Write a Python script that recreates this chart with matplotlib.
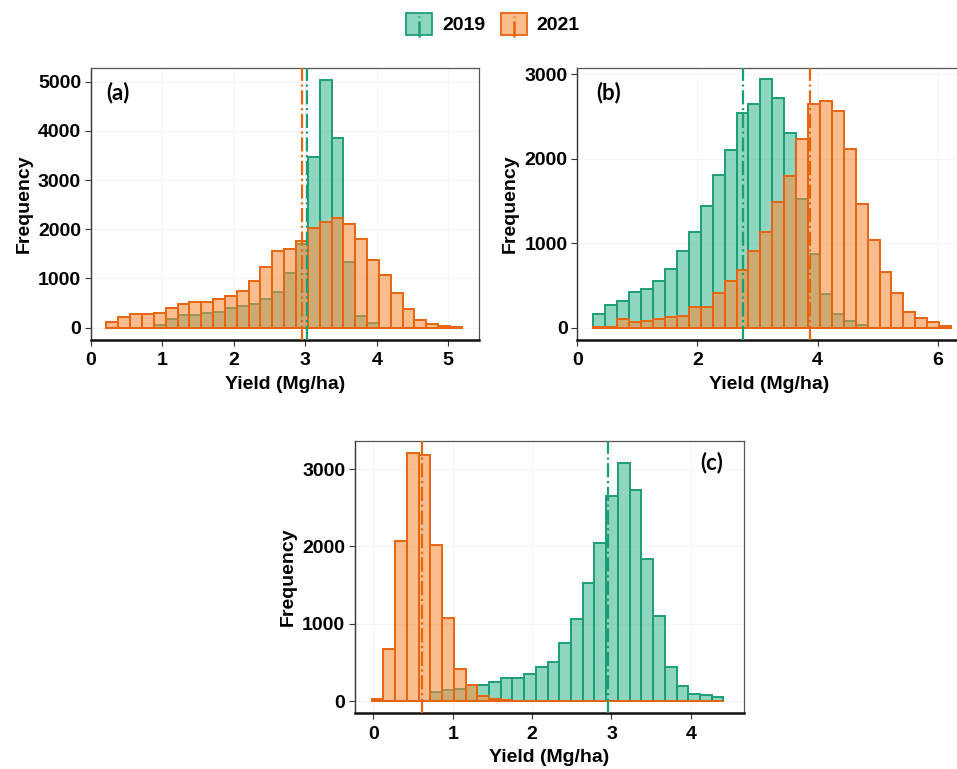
import numpy as np
import matplotlib
matplotlib.use("Agg")
import matplotlib.pyplot as plt
from matplotlib.patches import Patch, Rectangle
from matplotlib.lines import Line2D
from matplotlib.legend_handler import HandlerBase

plt.rcParams['font.family'] = ['Liberation Sans', 'DejaVu Sans']
plt.rcParams['font.weight'] = 'bold'

# ---- data ----
years = ["2019", "2021"]

# panel (a): 30 shared bins
a_range = (0.22, 5.19)
a_2019 = [0, 0, 0, 0, 60, 170, 250, 250, 305, 325, 393, 440, 475, 575, 718,
          1104, 1701, 3475, 5034, 3862, 1341, 244, 95, 0, 0, 0, 0, 0, 0, 0]
a_2021 = [120, 220, 270, 270, 290, 410, 490, 515, 515, 575, 645, 750, 955, 1226, 1558,
          1605, 1762, 2019, 2140, 2236, 2107, 1802, 1375, 1070, 698, 373, 156, 68, 40, 20]
a_mean = [3.03, 2.96]

# panel (b)
b_range = (0.27, 6.22)
b_2019 = [158, 268, 320, 418, 462, 557, 699, 904, 1129, 1441, 1804, 2104, 2546, 2649, 2941,
          2716, 2310, 1520, 869, 395, 162, 83, 32, 0, 0, 0, 0, 0, 0, 0]
b_2021 = [10, 10, 99, 71, 83, 103, 130, 142, 249, 241, 407, 557, 683, 908, 1129,
          1492, 1796, 2238, 2645, 2688, 2570, 2112, 1465, 1038, 659, 407, 182, 111, 71, 20]
b_mean = [2.76, 3.88]

# panel (c)
c_range = (-0.02, 4.41)
c_2019 = [0, 0, 0, 0, 0, 112, 142, 151, 207, 207, 250, 293, 293, 349, 444,
          509, 754, 1060, 1522, 2039, 2651, 3073, 2728, 1832, 1099, 444, 198, 90, 75, 50]
c_2021 = [20, 672, 2069, 3211, 3181, 2017, 1069, 409, 207, 69, 26, 8, 0, 0, 0,
          0, 0, 0, 0, 0, 0, 0, 0, 0, 0, 0, 0, 0, 0, 0]
c_mean = [2.95, 0.61]

edge_cols = ['#1b9e77', '#e8650f']
fill_cols = ['#1fae80', '#f98c3c']
fill_alpha = [0.5, 0.58]


class HandlerKey(HandlerBase):
    def create_artists(self, legend, orig_handle, xdescent, ydescent,
                       width, height, fontsize, trans):
        rect = Rectangle((-xdescent, -ydescent), width, height,
                         facecolor=orig_handle.get_facecolor(),
                         edgecolor=orig_handle.get_edgecolor(), lw=1.3,
                         transform=trans)
        cx = -xdescent + width / 2
        line = Line2D([cx, cx], [-ydescent - 0.12 * height, -ydescent + 0.88 * height],
                      color=orig_handle.get_edgecolor(), lw=1.8, ls='-.',
                      transform=trans)
        return [rect, line]


def draw_panel(ax, rng, counts, means, xlim, ylim, xticks, yticks, label, label_pos):
    edges = np.linspace(rng[0], rng[1], len(counts[0]) + 1)
    width = edges[1] - edges[0]
    ax.grid(True, color='#f4f4f4', lw=0.6)
    ax.set_axisbelow(True)
    for i in range(2):
        ax.bar(edges[:-1], counts[i], width=width, align='edge',
               facecolor=matplotlib.colors.to_rgba(fill_cols[i], fill_alpha[i]),
               edgecolor=edge_cols[i], linewidth=1.4, zorder=2 + i)
    for i in range(2):
        ax.axvline(means[i], color=edge_cols[i], lw=1.6, ls='-.', zorder=5)
    ax.set_xlim(*xlim)
    ax.set_ylim(*ylim)
    ax.set_xticks(xticks)
    ax.set_yticks(yticks)
    ax.tick_params(labelsize=14, length=4, width=0.8, color='#333333')
    ax.tick_params(axis='x', pad=5)
    ax.tick_params(axis='y', pad=3)
    ax.set_xlabel("Yield (Mg/ha)", fontsize=14, fontweight='bold', labelpad=5)
    ax.set_ylabel("Frequency", fontsize=14, fontweight='bold', labelpad=4)
    for s in ['top', 'right']:
        ax.spines[s].set_color('#555555')
        ax.spines[s].set_linewidth(0.9)
    ax.spines['left'].set_color('#333333')
    ax.spines['left'].set_linewidth(1.0)
    ax.spines['bottom'].set_color('#111111')
    ax.spines['bottom'].set_linewidth(1.8)
    ha = 'left' if label_pos[0] < 0.5 else 'right'
    ax.text(label_pos[0], label_pos[1], label, transform=ax.transAxes,
            fontsize=16, fontweight='bold', family=['Lato', 'DejaVu Sans'],
            ha=ha, va='center')


fig = plt.figure(figsize=(9.57, 7.69), dpi=100)
ax_a = fig.add_axes([0.0948, 0.5579, 0.4057, 0.3537])
ax_b = fig.add_axes([0.6032, 0.5579, 0.4000, 0.3537])
ax_c = fig.add_axes([0.3710, 0.0728, 0.4065, 0.3537])

draw_panel(ax_a, a_range, [a_2019, a_2021], a_mean, (0, 5.43), (-250, 5278),
           [0, 1, 2, 3, 4, 5], [0, 1000, 2000, 3000, 4000, 5000], "(a)", (0.04, 0.91))
draw_panel(ax_b, b_range, [b_2019, b_2021], b_mean, (0, 6.37), (-146, 3075),
           [0, 2, 4, 6], [0, 1000, 2000, 3000], "(b)", (0.05, 0.91))
ax_b.spines['right'].set_visible(False)
draw_panel(ax_c, c_range, [c_2019, c_2021], c_mean, (-0.23, 4.67), (-155, 3362),
           [0, 1, 2, 3, 4], [0, 1000, 2000, 3000], "(c)", (0.945, 0.92))

handles = [Patch(facecolor=matplotlib.colors.to_rgba(fill_cols[i], fill_alpha[i]),
                 edgecolor=edge_cols[i]) for i in range(2)]
fig.legend(handles, years, loc='center', bbox_to_anchor=(0.515, 0.969), ncol=2,
           frameon=False, fontsize=14, handlelength=1.34, handleheight=1.34,
           handletextpad=0.5, columnspacing=0.8,
           handler_map={Patch: HandlerKey()})

fig.savefig("out.png", dpi=100)
